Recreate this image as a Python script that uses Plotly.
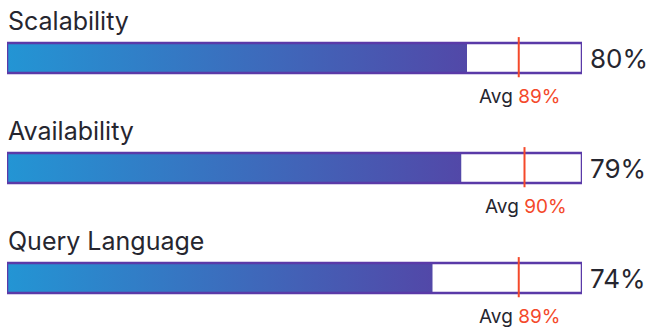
import plotly.graph_objects as go

categories = ["Scalability", "Availability", "Query Language"]
values = [80, 79, 74]
averages = [89, 90, 89]

BAR_HALF = 0.136
FONT = "Inter"
TEXT_COLOR = "#26262f"
RED = "#f4492a"
OUTLINE = "#5a3aa8"

fig = go.Figure()
shapes = []
annotations = []
for i, (cat, v, a) in enumerate(zip(categories, values, averages)):
    fig.add_trace(go.Scatter(
        x=[0, v, v, 0, 0],
        y=[i - BAR_HALF, i - BAR_HALF, i + BAR_HALF, i + BAR_HALF, i - BAR_HALF],
        mode="lines", line=dict(width=0), fill="toself",
        fillgradient=dict(type="horizontal",
                          colorscale=[[0, "#2395d4"], [1, "#5248a8"]]),
        hoverinfo="skip", showlegend=False,
    ))
    shapes.append(dict(type="rect", xref="x", yref="y", x0=0, x1=100,
                       y0=i - BAR_HALF, y1=i + BAR_HALF,
                       line=dict(color=OUTLINE, width=2.5), layer="above"))
    shapes.append(dict(type="line", xref="x", yref="y", x0=a, x1=a,
                       y0=i - 0.19, y1=i + 0.175,
                       line=dict(color=RED, width=2), layer="above"))
    annotations.append(dict(x=0, y=i, xref="x", yref="y", text=cat,
                            xanchor="left", yanchor="middle", yshift=37, xshift=-1,
                            showarrow=False,
                            font=dict(family=FONT, size=25, color=TEXT_COLOR)))
    annotations.append(dict(x=100, y=i, xref="x", yref="y", text=f"{v}%",
                            xanchor="left", yanchor="middle", xshift=6,
                            showarrow=False,
                            font=dict(family=FONT, size=26, color=TEXT_COLOR)))
    annotations.append(dict(x=a, y=i, xref="x", yref="y",
                            text=f"Avg <span style='color:{RED}'>{a}%</span>",
                            xanchor="center", yanchor="middle", yshift=-38, xshift=1,
                            showarrow=False,
                            font=dict(family=FONT, size=19, color=TEXT_COLOR)))

fig.update_layout(
    width=647, height=329,
    margin=dict(l=7, r=65, t=0, b=0),
    paper_bgcolor="white", plot_bgcolor="white",
    xaxis=dict(range=[0, 100], visible=False, fixedrange=True),
    yaxis=dict(range=[2.4636, -0.5273], visible=False, fixedrange=True),
    shapes=shapes, annotations=annotations,
)
fig.write_html("out.html", config={"displayModeBar": False},
               post_script="document.body.style.margin='0';")
